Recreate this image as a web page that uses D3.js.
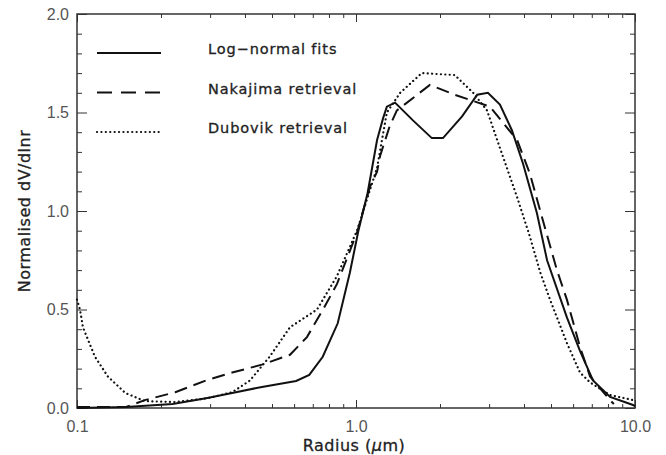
<!DOCTYPE html>
<html>
<head>
<meta charset="utf-8">
<script src="https://cdn.jsdelivr.net/npm/d3@7"></script>
<style>
  body { margin: 0; background: #fff; }
  svg { font-family: "DejaVu Sans", sans-serif; }
</style>
</head>
<body>
<div id="chart"></div>
<script>
// values (radius in um, normalised dV/dlnr)
const lognormR = [0.10, 0.15, 0.22, 0.29, 0.36, 0.46, 0.61, 0.68, 0.76, 0.86, 0.95, 1.02, 1.10, 1.19, 1.25, 1.29, 1.38, 1.60, 1.87, 2.05, 2.40, 2.72, 2.97, 3.28, 3.62, 3.97, 4.45, 4.84, 5.70, 6.35, 7.07, 8.14, 9.84, 10.0];
const lognormV = [0.00, 0.005, 0.02, 0.05, 0.076, 0.107, 0.137, 0.168, 0.26, 0.43, 0.685, 0.90, 1.09, 1.36, 1.47, 1.53, 1.55, 1.46, 1.37, 1.37, 1.48, 1.59, 1.60, 1.54, 1.41, 1.24, 0.99, 0.75, 0.46, 0.29, 0.14, 0.056, 0.015, 0.01];

const nakajimaR = [0.10, 0.15, 0.175, 0.225, 0.29, 0.36, 0.46, 0.58, 0.667, 0.762, 0.855, 1.008, 1.12, 1.19, 1.22, 1.32, 1.40, 1.84, 2.26, 3.02, 3.78, 4.20, 4.68, 5.25, 5.70, 6.35, 6.90, 8.14, 8.40];
const nakajimaV = [0.005, 0.005, 0.04, 0.08, 0.14, 0.18, 0.22, 0.27, 0.36, 0.50, 0.63, 0.89, 1.12, 1.20, 1.28, 1.43, 1.51, 1.64, 1.59, 1.53, 1.36, 1.19, 0.95, 0.70, 0.55, 0.31, 0.16, 0.04, 0.02];

const dubovikR = [0.10, 0.1025, 0.105, 0.116, 0.129, 0.149, 0.175, 0.225, 0.295, 0.36, 0.417, 0.49, 0.58, 0.725, 0.855, 1.008, 1.19, 1.29, 1.44, 1.72, 2.26, 2.63, 2.95, 3.28, 3.78, 4.20, 4.57, 4.96, 5.70, 6.35, 6.90, 8.14, 9.84, 10.0];
const dubovikV = [0.55, 0.50, 0.41, 0.26, 0.16, 0.076, 0.035, 0.03, 0.05, 0.08, 0.14, 0.26, 0.41, 0.50, 0.67, 0.90, 1.22, 1.50, 1.60, 1.70, 1.69, 1.60, 1.51, 1.32, 1.07, 0.87, 0.69, 0.55, 0.33, 0.18, 0.13, 0.066, 0.04, 0.04];

const xMajor = [0.1, 1, 10];
const xMinor = [0.2, 0.3, 0.4, 0.5, 0.6, 0.7, 0.8, 0.9, 2, 3, 4, 5, 6, 7, 8, 9];
const yMajor = [0, 0.5, 1, 1.5, 2];
const yMinor = [0.1, 0.2, 0.3, 0.4, 0.6, 0.7, 0.8, 0.9, 1.1, 1.2, 1.3, 1.4, 1.6, 1.7, 1.8, 1.9];

const series = [
  { name: "Log\u2212normal fits", r: lognormR, v: lognormV, style: "solid" },
  { name: "Nakajima retrieval", r: nakajimaR, v: nakajimaV, style: "dash" },
  { name: "Dubovik retrieval", r: dubovikR, v: dubovikV, style: "dot" }
];

const width = 666, height = 455;
const plotL = 77, plotR = 635, plotT = 14, plotB = 408;

const svg = d3.select("#chart").append("svg")
  .attr("width", width)
  .attr("height", height);

const x = d3.scaleLog().domain([0.1, 10]).range([plotL, plotR]);
const y = d3.scaleLinear().domain([0, 2]).range([plotB, plotT]);

const axisColor = "#333";
const labelColor = "#555";

// ticks point into the plot on all four sides
function drawAxis(axis, transform) {
  const g = svg.append("g").attr("transform", transform).call(axis);
  g.select(".domain").remove();
  g.selectAll(".tick line").attr("stroke", axisColor).attr("stroke-width", 1);
  g.selectAll(".tick text").attr("fill", labelColor).style("font-size", "16px");
  return g;
}

drawAxis(d3.axisBottom(x).tickValues(xMajor).tickSize(-8).tickPadding(13).tickFormat(d3.format(".1f")),
  `translate(0,${plotB})`);
drawAxis(d3.axisBottom(x).tickValues(xMinor).tickSize(-4).tickFormat(""), `translate(0,${plotB})`);
drawAxis(d3.axisTop(x).tickValues(xMajor).tickSize(-8).tickFormat(""), `translate(0,${plotT})`);
drawAxis(d3.axisTop(x).tickValues(xMinor).tickSize(-4).tickFormat(""), `translate(0,${plotT})`);

drawAxis(d3.axisLeft(y).tickValues(yMajor).tickSize(-10).tickPadding(8).tickFormat(d3.format(".1f")),
  `translate(${plotL},0)`);
drawAxis(d3.axisLeft(y).tickValues(yMinor).tickSize(-5).tickFormat(""), `translate(${plotL},0)`);
drawAxis(d3.axisRight(y).tickValues(yMajor).tickSize(-10).tickFormat(""), `translate(${plotR},0)`);
drawAxis(d3.axisRight(y).tickValues(yMinor).tickSize(-5).tickFormat(""), `translate(${plotR},0)`);

svg.append("rect")
  .attr("x", plotL).attr("y", plotT)
  .attr("width", plotR - plotL).attr("height", plotB - plotT)
  .attr("fill", "none").attr("stroke", axisColor).attr("stroke-width", 1.5);

const line = d3.line()
  .x(d => x(d[0]))
  .y(d => y(d[1]));

function styleLine(sel, style, legend) {
  sel.attr("fill", "none")
    .attr("stroke", "#111")
    .attr("stroke-width", style === "dot" ? 2.2 : 2)
    .attr("stroke-linecap", style === "dot" ? "round" : "butt")
    .attr("stroke-dasharray", style === "dash" ? (legend ? "15,9" : "13,7") : style === "dot" ? "0.1,4.3" : null);
}

series.forEach(s => {
  svg.append("path")
    .datum(d3.zip(s.r, s.v))
    .attr("d", line)
    .call(styleLine, s.style, false);
});

// legend
const legend = svg.append("g");
series.forEach((s, i) => {
  const ly = 53 + i * 39.5;
  legend.append("line")
    .attr("x1", 97).attr("x2", 161)
    .attr("y1", ly).attr("y2", ly)
    .call(styleLine, s.style, true);
  legend.append("text")
    .attr("x", 208).attr("y", ly + 1)
    .attr("fill", "#222")
    .attr("stroke", "#222").attr("stroke-width", 0.3)
    .style("font-size", "14.5px")
    .style("letter-spacing", "0.9px")
    .text(s.name);
});

// axis titles
const xt = svg.append("text")
  .attr("x", (plotL + plotR) / 2 - 2).attr("y", 451)
  .attr("text-anchor", "middle")
  .attr("fill", "#222")
  .attr("stroke", "#222").attr("stroke-width", 0.3)
  .style("font-size", "16px")
  .style("letter-spacing", "0.5px");
xt.append("tspan").text("Radius (");
xt.append("tspan").attr("font-style", "italic").text("\u03bc");
xt.append("tspan").text("m)");

svg.append("text")
  .attr("transform", `translate(30,${(plotT + plotB) / 2}) rotate(-90)`)
  .attr("text-anchor", "middle")
  .attr("fill", "#222")
  .attr("stroke", "#222").attr("stroke-width", 0.3)
  .style("font-size", "16px")
  .style("letter-spacing", "0.5px")
  .text("Normalised dV/dlnr");
</script>
</body>
</html>
